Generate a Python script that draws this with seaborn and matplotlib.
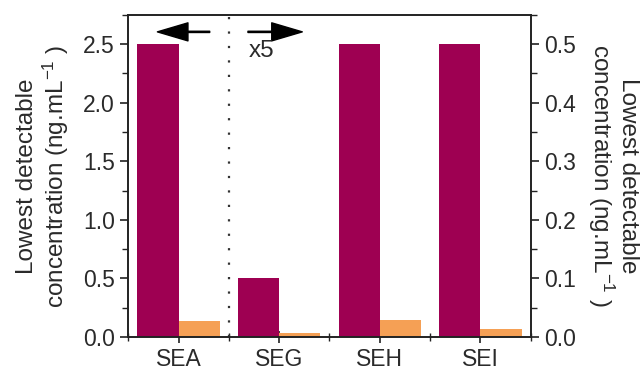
import matplotlib
matplotlib.use("Agg")
import matplotlib.pyplot as plt
import seaborn as sns
import pandas as pd
from matplotlib.ticker import MultipleLocator, FixedLocator

# ---- data (left-axis units; right axis = left / 5) ----
categories = ["SEA", "SEG", "SEH", "SEI"]
series_names = ["Series 1", "Series 2"]
series1_values = [2.5, 0.5, 2.5, 2.5]
series2_values = [0.14, 0.035, 0.145, 0.065]
left_ticks = [0.0, 0.5, 1.0, 1.5, 2.0, 2.5]
right_ticks = [0.0, 0.1, 0.2, 0.3, 0.4, 0.5]
scale_factor = 5

purple = "#9E0052"
orange = "#F5A055"

df = pd.DataFrame({
    "category": categories * 2,
    "series": [series_names[0]] * len(categories) + [series_names[1]] * len(categories),
    "value": series1_values + series2_values,
})

sns.set_theme(style="ticks")
plt.rcParams["font.family"] = ["Liberation Sans", "DejaVu Sans"]
plt.rcParams["mathtext.fontset"] = "custom"
plt.rcParams["mathtext.rm"] = "Liberation Sans"
plt.rcParams["mathtext.it"] = "Liberation Sans"

fig = plt.figure(figsize=(6.41, 3.72), dpi=100)
ax = fig.add_axes([0.2, 0.094, 0.628, 0.866])

sns.barplot(data=df, x="category", y="value", hue="series",
            palette=[purple, orange], width=0.82, gap=0, saturation=1,
            legend=False, ax=ax, edgecolor="none")

txt_col = "#2a2a2a"
ymax = 2.75
ax.set_xlim(-0.5, 3.5)
ax.set_ylim(0, ymax)
ax.set_yticks(left_ticks)
ax.set_yticklabels([f"{t:.1f}" for t in left_ticks])
ax.yaxis.set_minor_locator(MultipleLocator(0.25))
ax.xaxis.set_minor_locator(FixedLocator([-0.5, 0.5, 1.5, 2.5, 3.5]))
ax.set_xlabel("")
ax.set_ylabel("Lowest detectable\nconcentration (ng.mL$^{-1}$ )", fontsize=17.5, labelpad=9,
              linespacing=1.1, color=txt_col)

ax2 = ax.twinx()
ax2.set_ylim(0, ymax / scale_factor)
ax2.set_yticks(right_ticks)
ax2.set_yticklabels([f"{t:.1f}" for t in right_ticks])
ax2.yaxis.set_minor_locator(MultipleLocator(0.05))
ax2.set_ylabel("Lowest detectable\nconcentration (ng.mL$^{-1}$ )", fontsize=17.5,
               rotation=270, va="bottom", labelpad=7, linespacing=1.05, color=txt_col)

for a in (ax, ax2):
    for s in a.spines.values():
        s.set_linewidth(1.2)
        s.set_color("#222222")

ax.tick_params(axis="y", which="major", direction="out", length=6, width=1.2, labelsize=16.5, colors="#222222", labelcolor=txt_col)
ax.tick_params(axis="y", which="minor", direction="out", length=4, width=1.0, colors="#222222")
ax.tick_params(axis="x", which="major", direction="inout", length=9, width=1.2, labelsize=16.5, colors="#222222", labelcolor=txt_col)
ax.tick_params(axis="x", which="minor", direction="inout", length=6, width=1.0, colors="#222222")
ax2.tick_params(axis="y", which="major", direction="out", length=6, width=1.2, labelsize=16.5, colors="#222222", labelcolor=txt_col)
ax2.tick_params(axis="y", which="minor", direction="out", length=4, width=1.0, colors="#222222")

# dotted separator
ax.axvline(0.5, linestyle=(0, (1, 5.5)), linewidth=1.6, color="#333333")

# arrows and annotation
ax.annotate("", xy=(-0.21, 2.605), xytext=(0.31, 2.605),
            arrowprops=dict(width=0.9, headwidth=13, headlength=22, color="black", shrink=0))
ax.annotate("", xy=(1.23, 2.605), xytext=(0.69, 2.605),
            arrowprops=dict(width=0.9, headwidth=13, headlength=22, color="black", shrink=0))
ax.text(0.70, 2.44, "x5", fontsize=17.5, ha="left", va="center", color=txt_col)

fig.savefig("out.png", dpi=100)
